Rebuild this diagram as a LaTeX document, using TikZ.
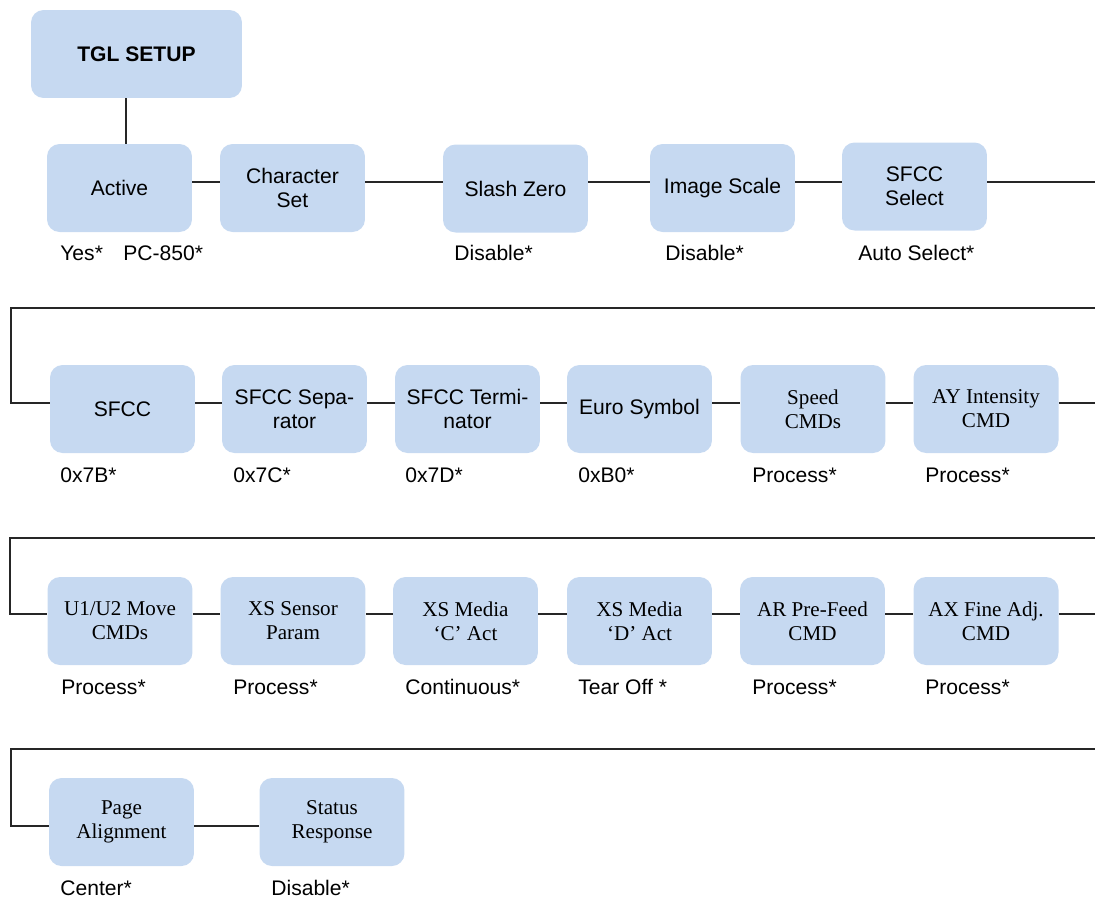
\documentclass[tikz,border=0pt]{standalone}
\usepackage{fontspec}
\setmainfont{Liberation Serif}
\newfontfamily\arialf{Liberation Sans}
\definecolor{boxfill}{HTML}{C6D9F1}
\definecolor{linec}{HTML}{262626}
\tikzset{
  menubox/.style={draw=none, fill=boxfill, rounded corners=0.25cm,
    minimum width=2.9cm, minimum height=1.76cm, inner sep=0pt,
    align=center, font=\fontsize{12}{13.6}\selectfont},
  sansbox/.style={menubox, font=\arialf\fontsize{12}{13.6}\selectfont},
  serifbox/.style={menubox},
  lab/.style={anchor=base west, inner sep=0pt, font=\arialf\fontsize{12}{13.6}\selectfont},
  conn/.style={draw=linec, line width=0.9pt}
}
\begin{document}
\begin{tikzpicture}[x=0.02cm, y=-0.02cm]
\useasboundingbox (0,0) rectangle (1095,897);
% Row 1
\node[sansbox, minimum width=4.22cm, font=\arialf\bfseries\fontsize{12}{13.6}\selectfont] (tgl) at (136.5,54) {TGL SETUP};
\node[sansbox] (active) at (119.5,188) {Active};
\node[sansbox] (charset) at (292.5,188) {Character\\Set};
\node[sansbox] (slash) at (515.5,188.5) {Slash Zero};
\node[sansbox] (image) at (722.5,188) {Image Scale};
\node[sansbox] (sfccsel) at (914.5,186.5) {SFCC\\Select};
\node[lab] (l1a) at (60,260) {Yes*};
\node[lab] (l1b) at (123,260) {PC-850*};
\node[lab] (l1c) at (454,260) {Disable*};
\node[lab] (l1d) at (665,260) {Disable*};
\node[lab] (l1e) at (858,260) {Auto Select*};
% Row 2
\node[sansbox] (sfcc) at (122.5,409) {SFCC};
\node[sansbox] (sep) at (294.5,409) {SFCC Sepa-\\rator};
\node[sansbox] (term) at (467.5,409) {SFCC Termi-\\nator};
\node[sansbox] (euro) at (639.5,409) {Euro Symbol};
\node[serifbox] (speed) at (813,409) {Speed\\CMDs};
\node[serifbox] (ay) at (986,409) {AY Intensity\\CMD};
\node[lab] (l2a) at (60,482) {0x7B*};
\node[lab] (l2b) at (233,482) {0x7C*};
\node[lab] (l2c) at (405,482) {0x7D*};
\node[lab] (l2d) at (578,482) {0xB0*};
\node[lab] (l2e) at (752,482) {Process*};
\node[lab] (l2f) at (925,482) {Process*};
% Row 3
\node[serifbox] (u1) at (120,621) {U1/U2 Move\\CMDs};
\node[serifbox] (xss) at (293,621) {XS Sensor\\Param};
\node[serifbox] (xsc) at (465.5,621) {XS Media\\‘C’ Act};
\node[serifbox] (xsd) at (639.5,621) {XS Media\\‘D’ Act};
\node[serifbox] (ar) at (812.5,621) {AR Pre-Feed\\CMD};
\node[serifbox] (ax) at (986,621) {AX Fine Adj.\\CMD};
\node[lab] (l3a) at (61,694) {Process*};
\node[lab] (l3b) at (233,694) {Process*};
\node[lab] (l3c) at (405,694) {Continuous*};
\node[lab] (l3d) at (578,694) {Tear Off *};
\node[lab] (l3e) at (752,694) {Process*};
\node[lab] (l3f) at (925,694) {Process*};
% Row 4
\node[serifbox] (page) at (121.5,822) {Page\\Alignment};
\node[serifbox] (status) at (332,822) {Status\\Response};
\node[lab] (l4a) at (60,895) {Center*};
\node[lab] (l4b) at (271,895) {Disable*};
% helper coordinates
\coordinate (v) at (126,0);
\coordinate (y1) at (0,182);
\coordinate (y2) at (0,403);
\coordinate (y3) at (0,614);
\coordinate (y4) at (0,826);
\coordinate (e1) at (1095,182);
\coordinate (s2) at (1095,308);
\coordinate (k2) at (11,308);
\coordinate (e2) at (1095,403);
\coordinate (s3) at (1095,538);
\coordinate (k3) at (10,538);
\coordinate (e3) at (1095,614);
\coordinate (s4) at (1095,749);
\coordinate (k4) at (11,749);
% connectors
\draw[conn] (tgl.south -| v) -- (active.north -| v);
\draw[conn] (active.east |- y1) -- (charset.west |- y1);
\draw[conn] (charset.east |- y1) -- (slash.west |- y1);
\draw[conn] (slash.east |- y1) -- (image.west |- y1);
\draw[conn] (image.east |- y1) -- (sfccsel.west |- y1);
\draw[conn] (sfccsel.east |- y1) -- (e1);
\draw[conn] (s2) -- (k2) |- (sfcc.west |- y2);
\draw[conn] (sfcc.east |- y2) -- (sep.west |- y2);
\draw[conn] (sep.east |- y2) -- (term.west |- y2);
\draw[conn] (term.east |- y2) -- (euro.west |- y2);
\draw[conn] (euro.east |- y2) -- (speed.west |- y2);
\draw[conn] (speed.east |- y2) -- (ay.west |- y2);
\draw[conn] (ay.east |- y2) -- (e2);
\draw[conn] (s3) -- (k3) |- (u1.west |- y3);
\draw[conn] (u1.east |- y3) -- (xss.west |- y3);
\draw[conn] (xss.east |- y3) -- (xsc.west |- y3);
\draw[conn] (xsc.east |- y3) -- (xsd.west |- y3);
\draw[conn] (xsd.east |- y3) -- (ar.west |- y3);
\draw[conn] (ar.east |- y3) -- (ax.west |- y3);
\draw[conn] (ax.east |- y3) -- (e3);
\draw[conn] (s4) -- (k4) |- (page.west |- y4);
\draw[conn] (page.east |- y4) -- (status.west |- y4);
\end{tikzpicture}
\end{document}
